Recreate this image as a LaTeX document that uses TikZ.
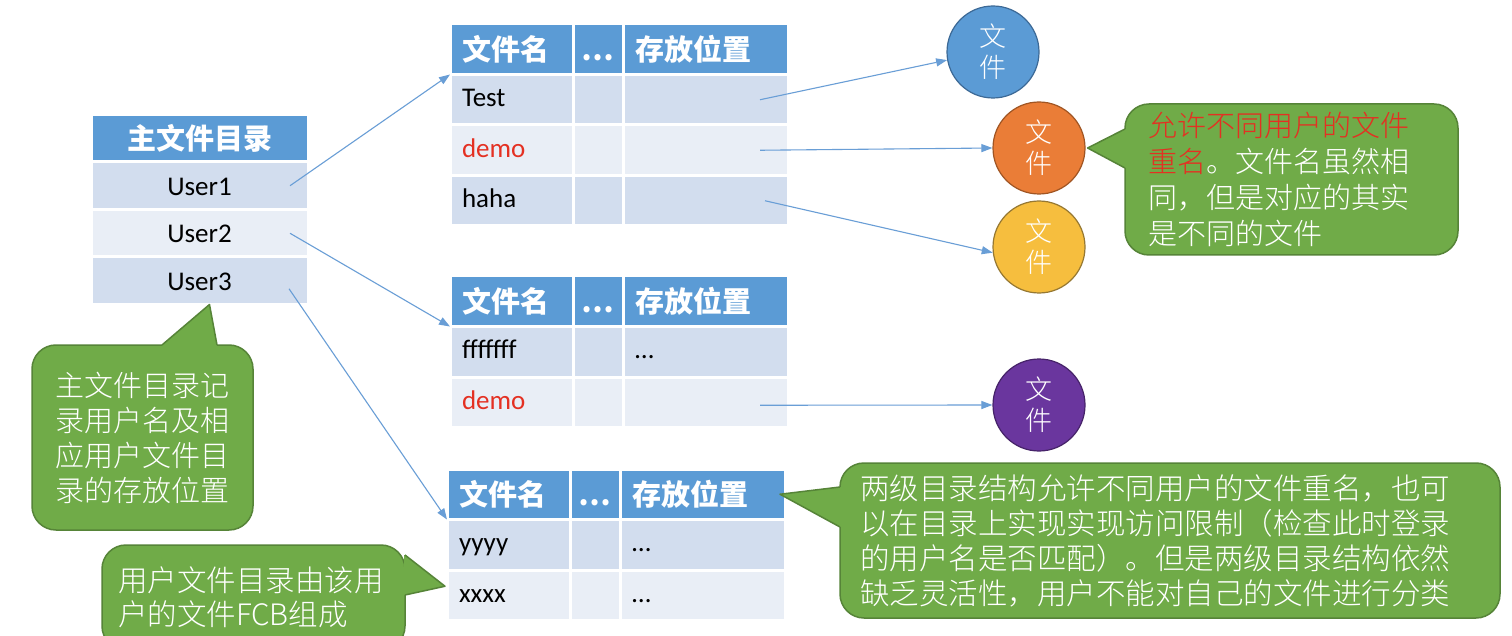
\documentclass[tikz,border=0pt]{standalone}
\usepackage{fontspec}
\setmainfont{Carlito}
\newfontfamily\cjk{Noto Sans CJK SC}
\IfFontExistsTF{Noto Sans CJK SC Light}
  {\newfontfamily\cjkthin{Noto Sans CJK SC Light}}
  {\newfontfamily\cjkthin{Noto Sans CJK SC}}
\usetikzlibrary{arrows.meta}
\definecolor{hdblue}{RGB}{91,155,213}
\definecolor{banddk}{RGB}{210,221,238}
\definecolor{bandlt}{RGB}{233,238,246}
\definecolor{linkblue}{RGB}{105,158,214}
\definecolor{callgreen}{RGB}{112,171,72}
\definecolor{calledge}{RGB}{86,132,56}
\definecolor{demored}{RGB}{228,48,34}
\definecolor{fblue}{RGB}{91,155,213}
\definecolor{fblueb}{RGB}{60,105,150}
\definecolor{forange}{RGB}{234,125,55}
\definecolor{forangeb}{RGB}{160,85,35}
\definecolor{fyellow}{RGB}{246,190,62}
\definecolor{fyellowb}{RGB}{150,120,50}
\definecolor{fpurple}{RGB}{106,54,158}
\definecolor{fpurpleb}{RGB}{70,35,105}

\tikzset{
  cell/.style={anchor=north west, draw=white, line width=3pt, outer sep=0pt,
    minimum height=50.5pt, inner xsep=12pt, inner ysep=0pt, align=left,
    text height=20pt, text depth=6pt, font=\fontsize{27}{30}\selectfont},
  hd/.style={cell, fill=hdblue, text=white, text height=24pt, text depth=2pt,
    font=\cjk\bfseries\fontsize{29}{32}\selectfont},
  band0/.style={fill=bandlt},
  band1/.style={fill=banddk},
  c1/.style={text width=99pt},
  c2/.style={text width=40pt, inner xsep=5pt, align=center},
  c3/.style={text width=141pt},
  mc/.style={minimum height=47.5pt, text width=193pt, align=center},
  mrow/.style={cell, mc, text height=22pt, text depth=3pt},
  filec/.style={circle, minimum size=92pt, inner sep=0pt, line width=1.2pt, text=white,
    align=center, font=\cjkthin\fontsize{27}{31}\selectfont},
  callbox/.style={fill=callgreen, draw=calledge, line width=1.5pt, rounded corners=24pt,
    outer sep=0pt, text=white, align=left, inner ysep=0pt},
  fileln/.style={draw=linkblue, line width=1.1pt, -{Triangle[length=11pt,width=8pt]}}
}

% one user directory: name, left, top, rows (name/location)
\newcommand\filetab[4]{%
  \node[hd, c1] (#1-0-1) at (#2,#3) {文件名};
  \node[hd, c2] (#1-0-2) at (#1-0-1.north east) {…};
  \node[hd, c3] (#1-0-3) at (#1-0-2.north east) {存放位置};
  \foreach \nm/\loc [count=\rw, evaluate=\rw as \bd using {int(mod(\rw,2))}] in {#4} {
    \pgfmathsetmacro\yy{#3+50.5*\rw}
    \node[cell, band\bd, c1] (#1-\rw-1) at (#2,\yy) {\nm};
    \node[cell, band\bd, c2] (#1-\rw-2) at (#1-\rw-1.north east) {};
    \node[cell, band\bd, c3] (#1-\rw-3) at (#1-\rw-2.north east) {\loc};
  }
}

\newcommand\calltip[3]{%
  \fill[callgreen] #1 -- #2 -- #3 -- cycle;
  \draw[callgreen, line width=2.6pt] #1 -- #3;
  \draw[calledge, line width=1.5pt, line join=round] #1 -- #2 -- #3;
}

\begin{document}
\begin{tikzpicture}[x=1pt,y=-1pt]
\useasboundingbox (0,0) rectangle (1512,636);
\clip (0,0) rectangle (1512,636);
\fill[white] (0,0) rectangle (1512,636);

\node[hd, mc] (m0) at (91,114.5) {主文件目录};
\node[mrow, band1] (m1) at (m0.south west) {User1};
\node[mrow, band0] (m2) at (m1.south west) {User2};
\node[mrow, band1] (m3) at (m2.south west) {User3};

\filetab{t1}{450}{24}{Test/{}, {\color{demored}demo}/{}, haha/{}}
\filetab{t2}{450}{276}{fffffff/…, {\color{demored}demo}/{}}
\filetab{t3}{447}{469}{yyyy/…, xxxx/…}

\node[filec, fill=fblue, draw=fblueb] (f1) at (993,52) {文\\件};
\node[filec, fill=forange, draw=forangeb] (f2) at (1039,148) {文\\件};
\node[filec, fill=fyellow, draw=fyellowb] (f3) at (1039,247) {文\\件};
\node[filec, fill=fpurple, draw=fpurpleb] (f4) at (1039,405) {文\\件};

% callouts
\node[callbox, text width=287pt, inner xsep=23pt, minimum height=151pt,
  font=\cjkthin\fontsize{29}{36}\selectfont] (cA) at (1291.5,179.5)
  {\textcolor{demored}{允许不同用户的文件}\\\textcolor{demored}{重名}。文件名虽然相\\同，但是对应的其实\\是不同的文件};
\calltip{([yshift=-25pt]cA.north west)}{([xshift=2pt]f2.east)}{([yshift=-64pt]cA.north west)}

\node[callbox, text width=620pt, inner xsep=20pt, minimum height=155pt,
  font=\cjkthin\fontsize{29.5}{35}\selectfont] (cB) at (1170,540.5)
  {两级目录结构允许不同用户的文件重名，也可\\以在目录上实现实现访问限制（检查此时登录\\的用户名是否匹配）。但是两级目录结构依然\\缺乏灵活性，用户不能对自己的文件进行分类};
\calltip{([yshift=-24pt]cB.north west)}{([xshift=-5pt]t3-0-3.east)}{([yshift=-64pt]cB.north west)}

\node[callbox, text width=175pt, inner xsep=23pt, minimum height=185pt,
  font=\cjkthin\fontsize{29}{35}\selectfont] (cC) at (142.5,437.5)
  {主文件目录记\\录用户名及相\\应用户文件目\\录的存放位置};
\calltip{([xshift=130pt]cC.north west)}{([xshift=10pt]m3.south)}{([xshift=185pt]cC.north west)}

\node[callbox, text width=271pt, inner xsep=16pt, minimum height=105pt,
  font=\cjkthin\fontsize{29.5}{34}\selectfont] (cD) at (253.5,597.5)
  {用户文件目录由该用\\户的文件FCB组成};
\calltip{([yshift=-10pt]cD.north east)}{([shift={(-2pt,9pt)}]t3-2-1.west)}{([yshift=-50pt]cD.north east)}

\draw[fileln] ([xshift=-18pt]m1.east) -- (t1-0-1.south west);
\draw[fileln] ([xshift=-18pt]m2.east) -- (t2-0-1.south west);
\draw[fileln] ([shift={(-19pt,-8pt)}]m3.east) -- (t3-0-1.south west);
\draw[fileln] ([xshift=-28pt]t1-1-3.east) -- (f1.190);
\draw[fileln] ([xshift=-28pt]t1-2-3.east) -- (f2.west);
\draw[fileln] ([xshift=-23pt]t1-3-3.east) -- (f3.187);
\draw[fileln] ([shift={(-28pt,-3pt)}]t2-2-3.east) -- (f4.west);
\end{tikzpicture}
\end{document}
